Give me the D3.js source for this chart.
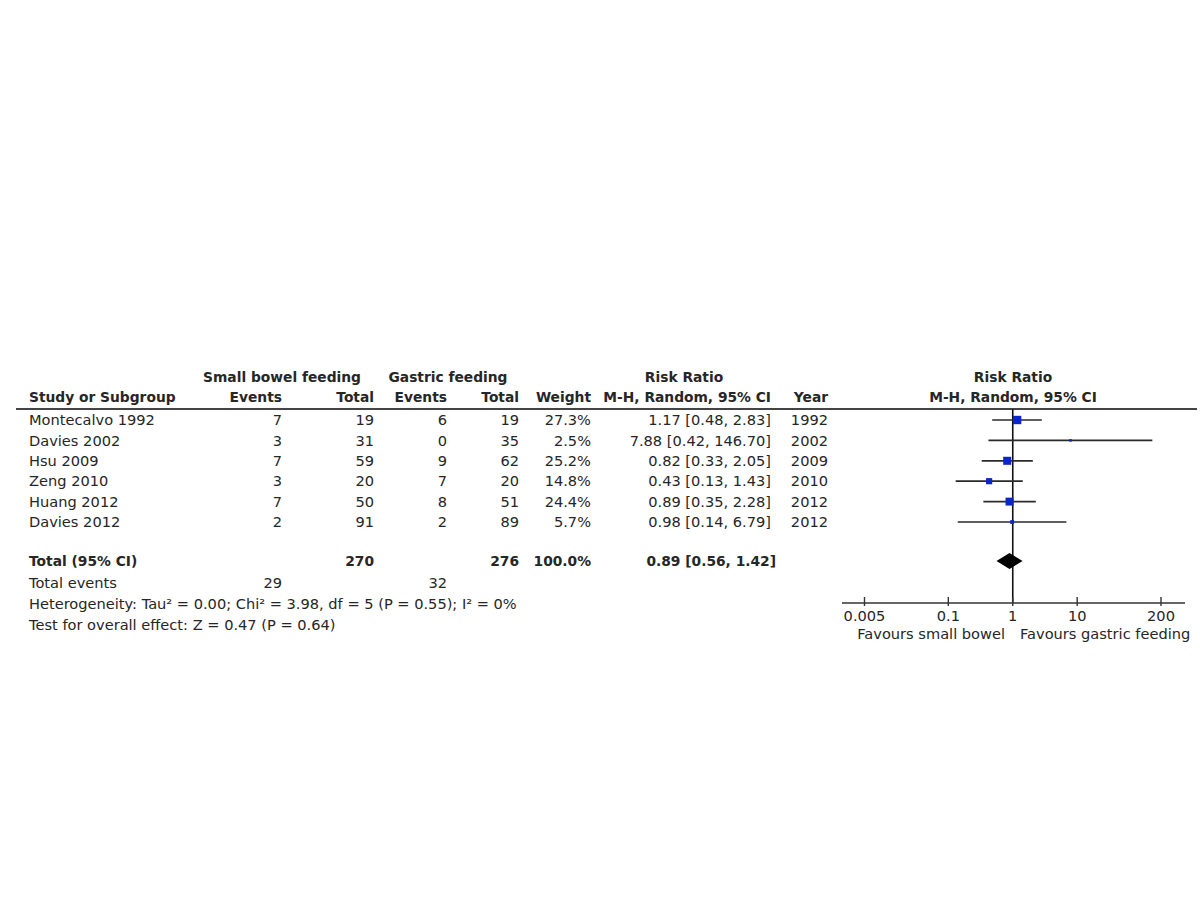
<!DOCTYPE html>
<html>
<head>
<meta charset="utf-8">
<script src="https://cdn.jsdelivr.net/npm/d3@7"></script>
<style>
  html, body { margin: 0; padding: 0; background: #fff; }
  svg text { font-family: "DejaVu Sans", "Verdana", sans-serif; fill: #262626; }
</style>
</head>
<body>
<svg id="chart" width="1200" height="900"></svg>
<script>
// ---- data ----
const studies   = ["Montecalvo 1992", "Davies 2002", "Hsu 2009", "Zeng 2010", "Huang 2012", "Davies 2012"];
const sbEvents  = [7, 3, 7, 3, 7, 2];
const sbTotal   = [19, 31, 59, 20, 50, 91];
const gEvents   = [6, 0, 9, 7, 8, 2];
const gTotal    = [19, 35, 62, 20, 51, 89];
const weights   = [27.3, 2.5, 25.2, 14.8, 24.4, 5.7];
const rr        = [1.17, 7.88, 0.82, 0.43, 0.89, 0.98];
const rrLow     = [0.48, 0.42, 0.33, 0.13, 0.35, 0.14];
const rrHigh    = [2.83, 146.70, 2.05, 1.43, 2.28, 6.79];
const years     = [1992, 2002, 2009, 2010, 2012, 2012];
const totalSb = 270, totalG = 276, totalWeight = 100.0;
const totalEventsSb = 29, totalEventsG = 32;
const pooled = [0.89, 0.56, 1.42];
const tickValues = [0.005, 0.1, 1, 10, 200];
const heterogeneity = ["Heterogeneity: Tau", "² = 0.00; Chi", "² = 3.98, df = 5 (P = 0.55); I", "² = 0%"];
const overallTest = "Test for overall effect: Z = 0.47 (P = 0.64)";

// ---- layout ----
const svg = d3.select("#chart");
const FS = 14.6, FSB = 13.8;
const f2 = d3.format(".2f");
const f1 = d3.format(".1f");

const y = d3.scaleLinear().domain([0, studies.length - 1]).range([420, 522]);
const x = d3.scaleLog().domain([0.005, 200]).range([864.5, 1161]);

const colX = { study: 29, sbE: 282, sbT: 374, gE: 447, gT: 519, w: 591, ci: 771, yr: 828 };

function txt(xp, yp, s, anchor, bold) {
  return svg.append("text").attr("x", xp).attr("y", yp).attr("dy", "0.36em")
    .attr("text-anchor", anchor || "start")
    .style("font-size", (bold ? FSB : FS) + "px")
    .style("font-weight", bold ? "bold" : "normal")
    .text(s);
}

// headers
txt(282, 377, "Small bowel feeding", "middle", true);
txt(448, 377, "Gastric feeding", "middle", true);
txt(684, 377, "Risk Ratio", "middle", true);
txt(1013, 377, "Risk Ratio", "middle", true);
txt(colX.study, 397, "Study or Subgroup", "start", true);
txt(colX.sbE, 397, "Events", "end", true);
txt(colX.sbT, 397, "Total", "end", true);
txt(colX.gE, 397, "Events", "end", true);
txt(colX.gT, 397, "Total", "end", true);
txt(colX.w, 397, "Weight", "end", true);
txt(colX.ci, 397, "M-H, Random, 95% CI", "end", true);
txt(colX.yr, 397, "Year", "end", true);
txt(1013, 397, "M-H, Random, 95% CI", "middle", true);

svg.append("line").attr("x1", 16).attr("x2", 1197).attr("y1", 409).attr("y2", 409)
  .attr("stroke", "#444").attr("stroke-width", 2);

// rows
studies.forEach((s, i) => {
  const yy = y(i);
  txt(colX.study, yy, s);
  txt(colX.sbE, yy, sbEvents[i], "end");
  txt(colX.sbT, yy, sbTotal[i], "end");
  txt(colX.gE, yy, gEvents[i], "end");
  txt(colX.gT, yy, gTotal[i], "end");
  txt(colX.w, yy, f1(weights[i]) + "%", "end");
  txt(colX.ci, yy, `${f2(rr[i])} [${f2(rrLow[i])}, ${f2(rrHigh[i])}]`, "end");
  txt(colX.yr, yy, years[i], "end");
});

// total rows
const yTot = 561;
txt(colX.study, yTot, "Total (95% CI)", "start", true);
txt(colX.sbT, yTot, totalSb, "end", true);
txt(colX.gT, yTot, totalG, "end", true);
txt(colX.w, yTot, f1(totalWeight) + "%", "end", true);
txt(776, yTot, `${f2(pooled[0])} [${f2(pooled[1])}, ${f2(pooled[2])}]`, "end", true);
txt(colX.study, 583, "Total events");
txt(colX.sbE, 583, totalEventsSb, "end");
txt(colX.gE, 583, totalEventsG, "end");
txt(colX.study, 604, heterogeneity.join(""));
txt(colX.study, 625, overallTest);

// forest plot
const g = svg.append("g");
const axisY = 603;
// vertical line of no effect
g.append("line").attr("x1", x(1)).attr("x2", x(1)).attr("y1", 409).attr("y2", axisY)
  .attr("stroke", "#111").attr("stroke-width", 1.6);

// CI lines
g.selectAll("line.ci").data(studies).join("line").attr("class", "ci")
  .attr("x1", (d, i) => x(rrLow[i])).attr("x2", (d, i) => x(rrHigh[i]))
  .attr("y1", (d, i) => y(i)).attr("y2", (d, i) => y(i))
  .attr("stroke", "#2a2a2a").attr("stroke-width", 1.7);

// squares
const sz = d => 1.6 * Math.sqrt(d);
g.selectAll("rect.pt").data(studies).join("rect").attr("class", "pt")
  .attr("x", (d, i) => x(rr[i]) - sz(weights[i]) / 2)
  .attr("y", (d, i) => y(i) - sz(weights[i]) / 2)
  .attr("width", (d, i) => sz(weights[i]))
  .attr("height", (d, i) => sz(weights[i]))
  .attr("fill", "#0a25c9");

// diamond
const dh = 8;
g.append("path")
  .attr("d", `M${x(pooled[1])},${yTot} L${x(pooled[0])},${yTot - dh} L${x(pooled[2])},${yTot} L${x(pooled[0])},${yTot + dh} Z`)
  .attr("fill", "#000");

// axis
g.append("line").attr("x1", 842).attr("x2", 1185).attr("y1", axisY).attr("y2", axisY)
  .attr("stroke", "#333").attr("stroke-width", 1.6);
g.selectAll("line.tick").data(tickValues).join("line").attr("class", "tick")
  .attr("x1", d => x(d)).attr("x2", d => x(d)).attr("y1", axisY - 6).attr("y2", axisY + 3)
  .attr("stroke", "#333").attr("stroke-width", 1.4);
g.selectAll("text.tl").data(tickValues).join("text").attr("class", "tl")
  .attr("x", d => x(d)).attr("y", 616).attr("dy", "0.36em")
  .attr("text-anchor", "middle").style("font-size", FS + "px")
  .text(d => String(d));
txt(1005, 634, "Favours small bowel", "end");
txt(1020, 634, "Favours gastric feeding", "start");
</script>
</body>
</html>
